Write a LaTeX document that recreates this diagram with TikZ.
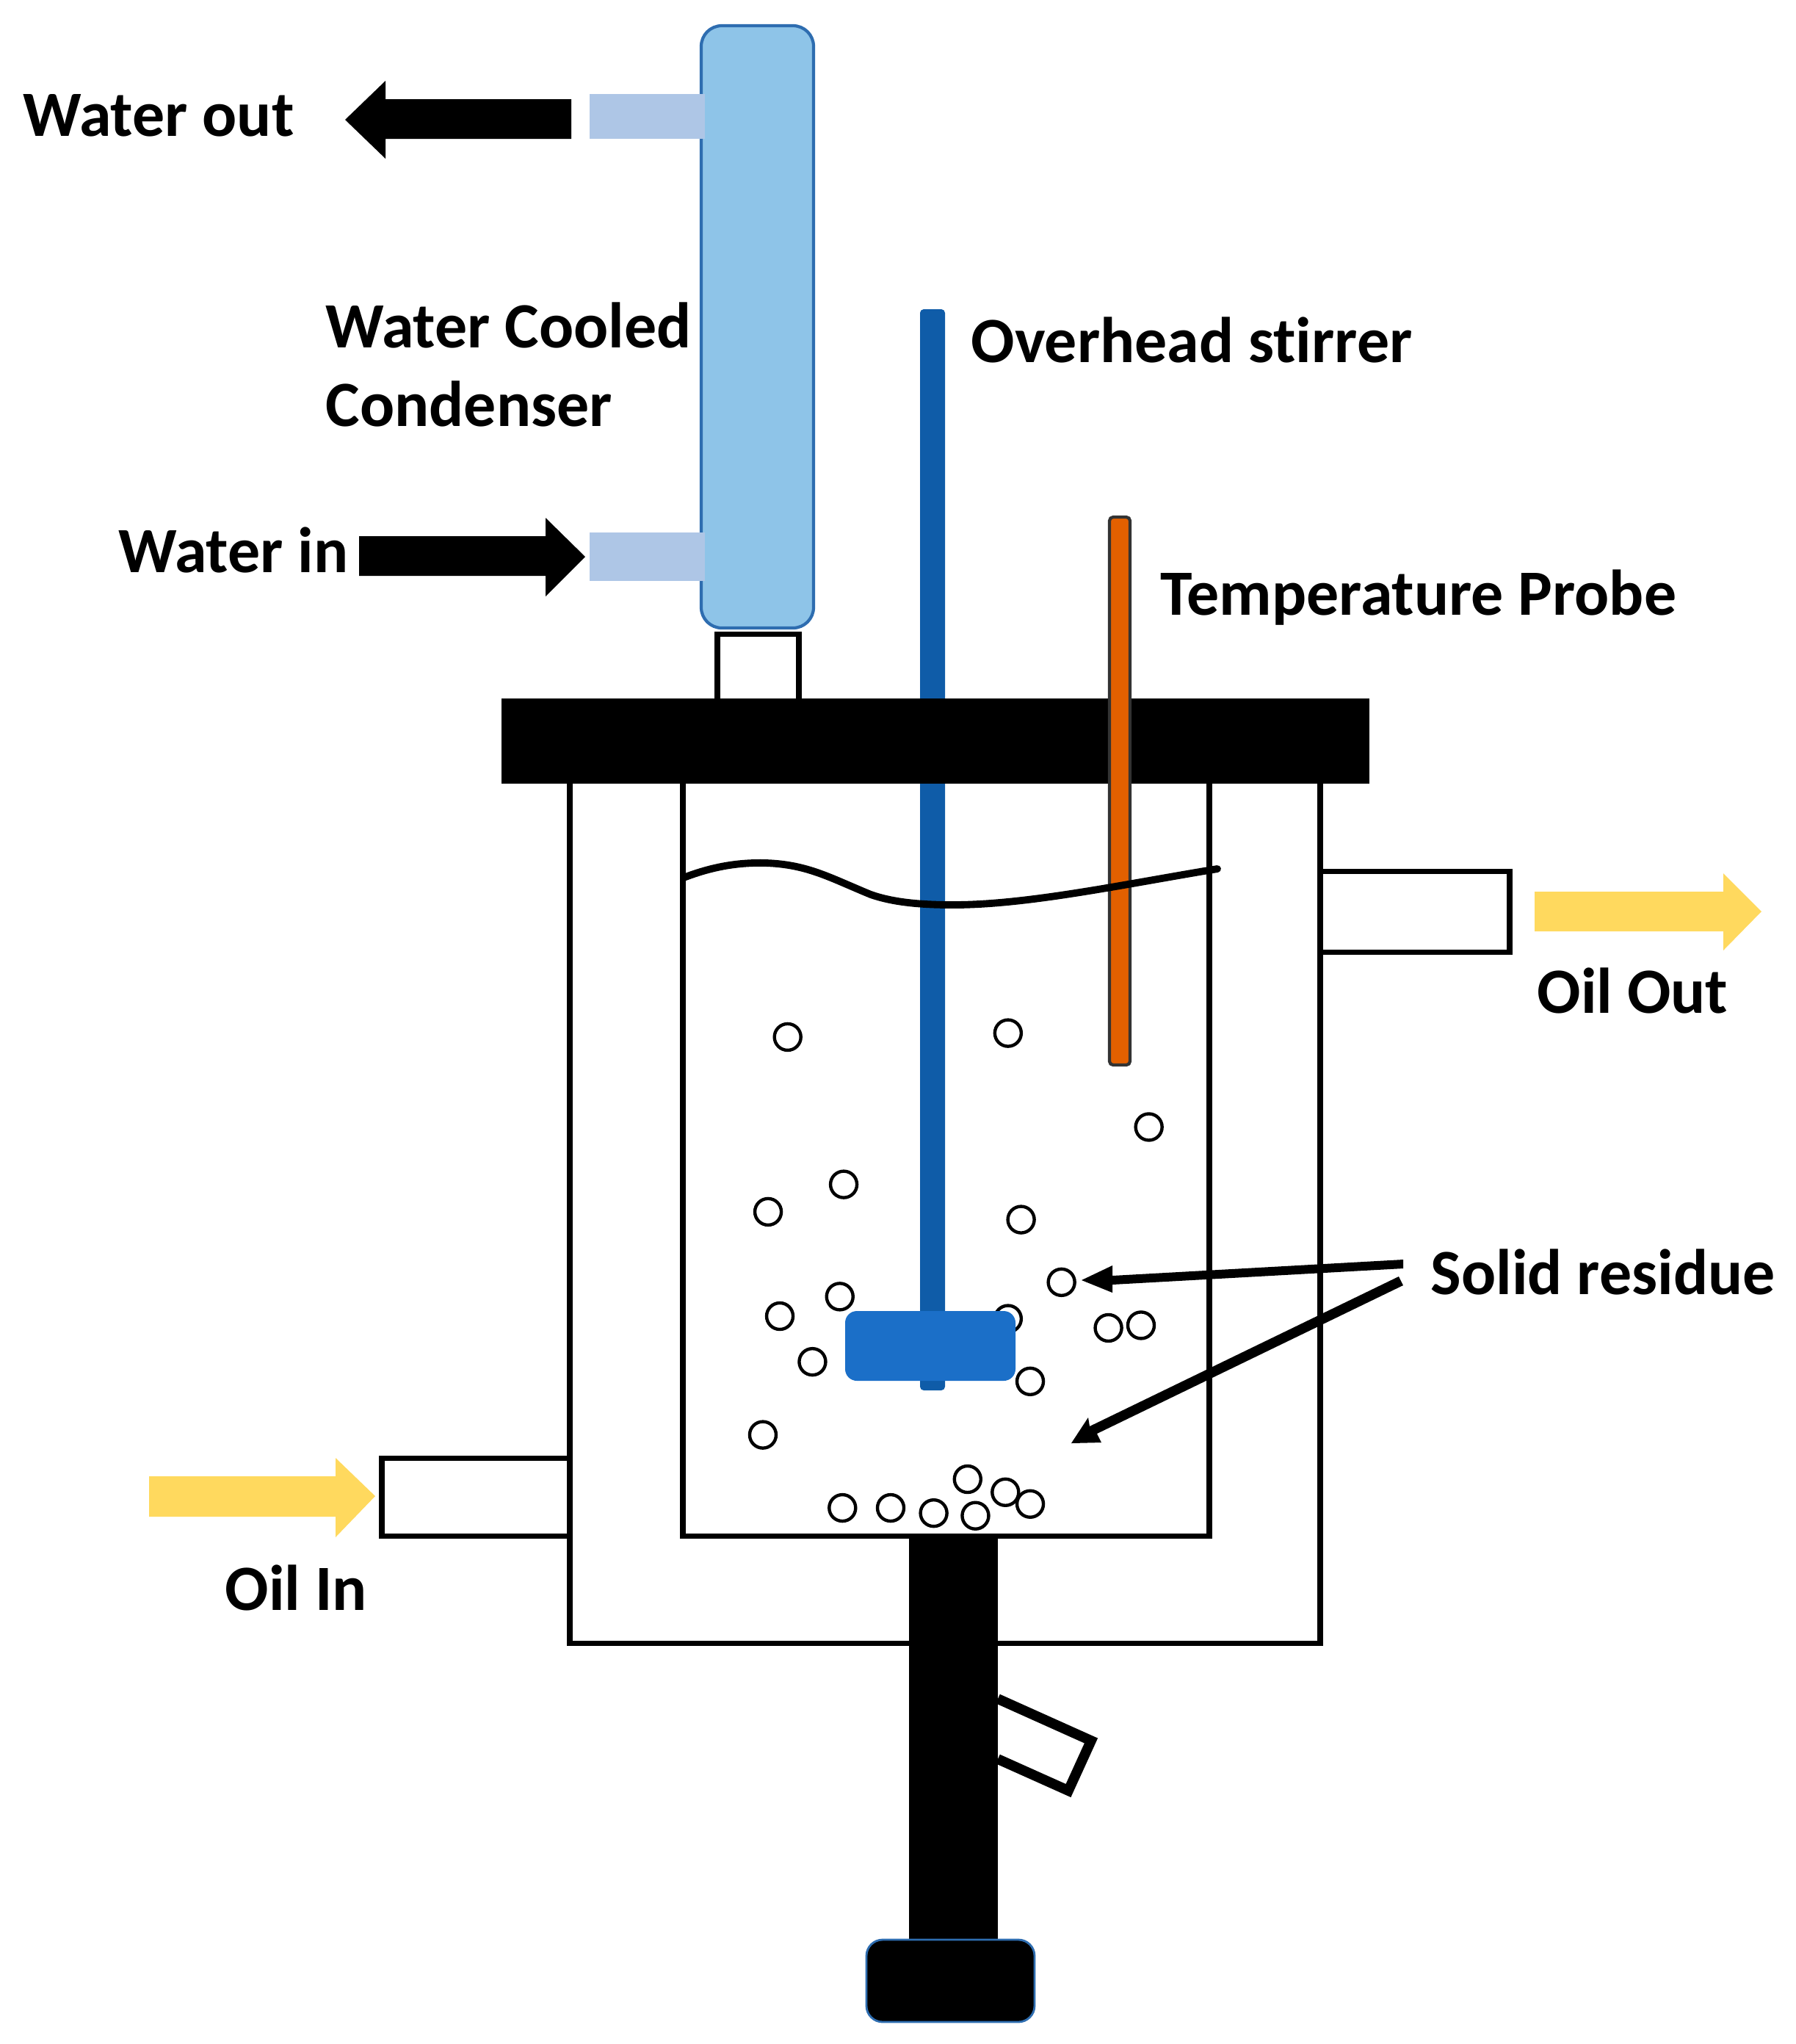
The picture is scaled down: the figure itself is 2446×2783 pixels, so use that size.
\documentclass[tikz,border=0pt]{standalone}
\usepackage{fontspec}
\setmainfont{Carlito}[BoldFont=Carlito Bold,Ligatures=NoCommon]
\definecolor{condfill}{HTML}{8EC4E8}
\definecolor{condedge}{HTML}{2E6DB0}
\definecolor{stub}{HTML}{AEC6E6}
\definecolor{stir}{HTML}{0F5CA8}
\definecolor{blade}{HTML}{1B6FC8}
\definecolor{probe}{HTML}{E36000}
\definecolor{oil}{HTML}{FFD95E}
\tikzset{
  vessel/.style={draw=black,line width=2pt},
  lbl/.style={font=\bfseries\fontsize{25pt}{28pt}\selectfont,anchor=base west,inner sep=0pt,text=black},
  bub/.style={circle,draw=black,line width=1.25pt,fill=white,minimum size=0.36cm,inner sep=0pt},
}
\begin{document}
\begin{tikzpicture}[x=0.01cm,y=-0.01cm]
\useasboundingbox (0,0) rectangle (2446,2783);
% condenser, neck and stubs
\draw[vessel,fill=white] (977,863) rectangle (1088,960);
\draw[condedge,line width=1.2pt,fill=condfill,rounded corners=0.28cm] (955,35) rectangle (1108,855);
\fill[stub] (803,128) rectangle (960,189);
\fill[stub] (803,725) rectangle (960,791);
% water arrows
\fill[black] (778,135) -- (525,135) -- (525,110) -- (470,163) -- (525,216) -- (525,189) -- (778,189) -- cycle;
\fill[black] (489,730) -- (743,730) -- (743,705) -- (797,758) -- (743,812) -- (743,784) -- (489,784) -- cycle;
% ports, then vessels
\draw[vessel,fill=white] (1798,1186) -- (2056,1186) -- (2056,1296) -- (1798,1296);
\draw[vessel,fill=white] (776,1985) -- (520,1985) -- (520,2091) -- (776,2091);
\draw[vessel] (776,1060) -- (776,2237) -- (1798,2237) -- (1798,1060);
\draw[vessel] (930,1060) -- (930,2091) -- (1647,2091) -- (1647,1060);
% stirrer shaft
\fill[stir,rounded corners=0.05cm] (1253,421) rectangle (1287,1893);
% bubbles
\foreach \i/\a/\b in {1/604/795,2/773/792,3/881/864,4/647/908,5/589/929,6/783/935,7/814/983,8/644/994,9/598/1009,10/773/1011,11/850/1018,12/875/1016,13/623/1044,14/790/1059,15/585/1100,16/742/1134,17/771/1144,18/790/1153,19/646/1156,20/683/1156,21/716/1160,22/748/1162}
  \node[bub] (b\i) at ({\a*1.776},{\b*1.776}) {};
% blade
\fill[blade,rounded corners=0.16cm] (1151,1785) rectangle (1383,1880);
% lid, drain
\fill[black] (683,951) rectangle (1865,1067);
\fill[black] (1238,2091) rectangle (1359,2645);
\draw[black,line width=3.9pt,fill=white] (1359,2313) -- (1486,2370) -- (1455,2438) -- (1359,2395);
\draw[condedge,line width=0.8pt,fill=black,rounded corners=0.22cm] (1180,2641) rectangle (1409,2753);
% probe
\draw[black!80,line width=1.2pt,fill=probe,rounded corners=0.05cm] (1511,704) rectangle (1539,1450);
% liquid level
\draw[black,line width=2.8pt,line cap=round] (931,1195) .. controls (970,1180) and (1005,1174) .. (1043,1175) .. controls (1100,1177) and (1130,1195) .. (1186,1218) .. controls (1215,1228) and (1250,1232) .. (1298,1232) .. controls (1400,1232) and (1530,1204) .. (1658,1183);
% oil arrows
\fill[oil] (2090,1214) -- (2347,1214) -- (2347,1189) -- (2399,1241) -- (2347,1294) -- (2347,1268) -- (2090,1268) -- cycle;
\fill[oil] (203,2010) -- (457,2010) -- (457,1985) -- (511,2037) -- (457,2093) -- (457,2065) -- (203,2065) -- cycle;
% residue arrows
\coordinate (t1) at (1473,1743);
\coordinate (t2) at (1459,1965);
\fill[black] (1911,1715) -- (1515,1737) -- (1515,1723) -- (t1) -- (1515,1760) -- (1515,1749) -- (1911,1727) -- cycle;
\fill[black] (1905,1738) -- (1484,1942) -- (1482,1930) -- (t2) -- (1500,1964) -- (1494,1952) -- (1911,1750) -- cycle;
% labels
\node[lbl] (wo) at (31,185) {Water out};
\node[lbl] (wc) at (443,473) {Water Cooled};
\node[lbl] (co) at (443,580) {Condenser};
\node[lbl] (wi) at (161,779) {Water in};
\node[lbl] (os) at (1322,493) {Overhead stirrer};
\node[lbl] (tp) at (1580,837) {Temperature Probe};
\node[lbl] (oo) at (2093,1379) {Oil Out};
\node[lbl] (sr) at (1948,1762) {Solid residue};
\node[lbl] (oi) at (306,2192) {Oil In};
\end{tikzpicture}
\end{document}
